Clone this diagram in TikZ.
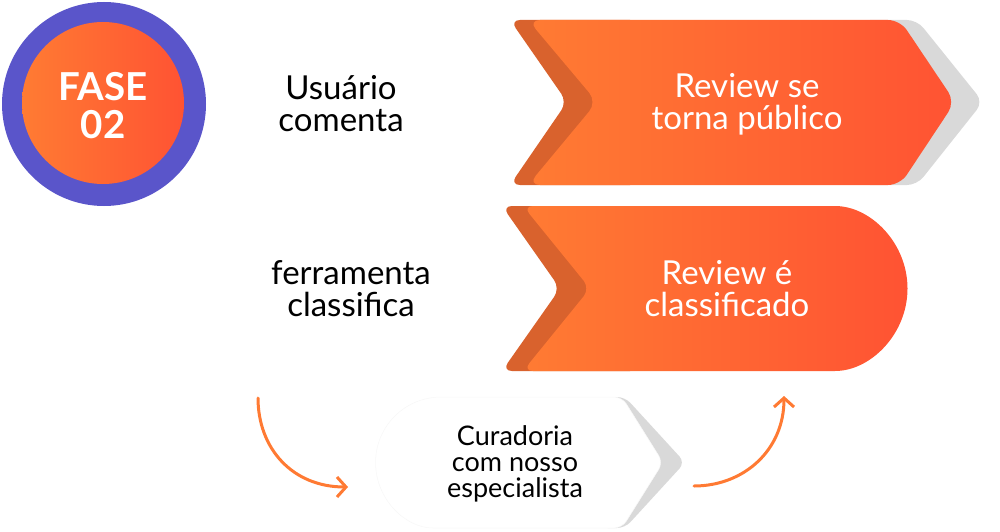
\documentclass[tikz,border=0pt]{standalone}
\usepackage{fontspec}
\setmainfont{Lato}
\usetikzlibrary{arrows.meta}
\definecolor{oL}{HTML}{FF7B33}
\definecolor{oR}{HTML}{FF5333}
\definecolor{oDark}{HTML}{D9622D}
\definecolor{purp}{HTML}{5A55CA}
\definecolor{shgray}{HTML}{D9D9D9}
\definecolor{arr}{HTML}{FF7A33}
\tikzset{
  grad/.style={left color=oL, right color=oR, draw=none},
  darkband/.style={fill=oDark, draw=none},
  shadowgray/.style={fill=shgray, draw=none},
  blacktxt/.style={align=center, text=black, inner sep=0pt, font=\fontsize{33}{32}\selectfont},
  whitetxt/.style={align=center, text=white, inner sep=0pt, font=\fontsize{33}{32}\selectfont},
  smalltxt/.style={align=center, text=black, inner sep=0pt, font=\fontsize{27}{26}\selectfont},
  fasetxt/.style={align=center, text=white, inner sep=0pt, font=\bfseries\fontsize{38.5}{38}\selectfont},
  flow/.style={draw=arr, line width=3pt, line cap=round, -{Straight Barb[length=9pt,width=20pt,line width=3pt]}}
}
\begin{document}
\begin{tikzpicture}[x=1pt,y=-1pt]
\useasboundingbox (0,0) rectangle (1000,532);
% phase badge
\fill[purp] (104,104) circle (102);
\shade[left color=oL, right color=oR] (103,103) circle (81);
\node[fasetxt] (fase) at (103,106) {FASE\\02};

% top chevron
\path[shadowgray, rounded corners=10pt] (860,20) -- (917,20) -- (983,102) -- (917,185) -- (860,185) -- cycle;
\path[darkband, rounded corners=10pt] (510,20) -- (640,20) -- (640,185) -- (510,185) -- (567,102) -- cycle;
\path[grad, rounded corners=12pt] (528,20) -- (900,20) -- (955,102) -- (900,185) -- (528,185) -- (597,102) -- cycle;
\node[whitetxt] (pub) at (747,104) {Review se\\torna público};

% middle chevron
\path[darkband, rounded corners=10pt] (502,206) -- (640,206) -- (640,371) -- (502,371) -- (560,288.5) -- cycle;
\path[grad, rounded corners=10pt] (523,206) -- (825,206) arc[start angle=-90, end angle=90, radius=82.5] -- (523,371) -- (590,288.5) -- cycle;
\node[whitetxt] (cls) at (727,289) {Review é\\classificado};

% left texts
\node[blacktxt] (usr) at (341,104) {Usuário\\comenta};
\node[blacktxt] (tool) at (351,289) {ferramenta\\classifica};

% bottom chevron
\path[shadowgray, rounded corners=8pt] (600,397) -- (625,397) -- (685,462.5) -- (625,528) -- (600,528) -- cycle;
\path[fill=white, draw=black!3, line width=0.5pt, rounded corners=8pt] (441,397) -- (622,397) -- (663,462.5) -- (622,528) -- (441,528) [sharp corners] arc[start angle=90, end angle=270, radius=65.5] -- cycle;
\node[smalltxt] (cur) at (515,464) {Curadoria\\com nosso\\especialista};

% flow arrows
\coordinate (a1s) at (258,398);
\coordinate (a1e) at (348,487);
\coordinate (a2s) at (694,486);
\coordinate (a2e) at (784,396);
\draw[flow] (a1s) .. controls (258,448) and (292,487) .. (a1e);
\draw[flow] (a2s) .. controls (744,486) and (784,450) .. (a2e);
\end{tikzpicture}
\end{document}
